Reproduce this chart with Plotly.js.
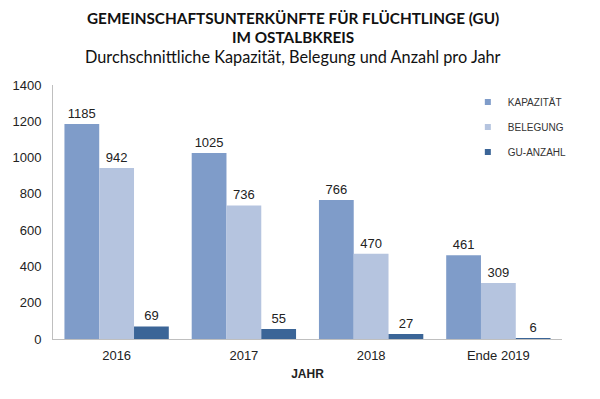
<!DOCTYPE html>
<html><head><meta charset="utf-8">
<script src="https://cdn.plot.ly/plotly-3.0.1.min.js"></script>
<style>body{margin:0}#c{width:600px;height:399px}</style>
</head><body><div id="c"></div>
<script>
const categories = ["2016", "2017", "2018", "Ende 2019"];
const kapazitaet = [1185, 1025, 766, 461];
const belegung = [942, 736, 470, 309];
const guAnzahl = [69, 55, 27, 6];
const seriesNames = ["KAPAZITÄT", "BELEGUNG", "GU-ANZAHL"];
const colors = ["#7f9cc9", "#b5c4df", "#3b6597"];
const yTicks = [0, 200, 400, 600, 800, 1000, 1200, 1400];

const vals = [kapazitaet, belegung, guAnzahl];
const traces = vals.map((v, i) => ({
  type: "bar", x: categories, y: v, name: seriesNames[i],
  marker: {color: colors[i]}, showlegend: false,
  text: v.map(String), textposition: "outside", cliponaxis: false,
  textfont: {family: "Liberation Sans, Arial", size: 13, color: "#222"}
}));
// legend entries with small square symbols
seriesNames.forEach((n, i) => traces.push({
  type: "scatter", mode: "markers", x: [null], y: [null], name: n,
  legendgroup: "g" + i,
  marker: {symbol: "square", size: 6, color: colors[i]}, showlegend: true
}));

const layout = {
  width: 600, height: 399,
  margin: {l: 53, r: 38, t: 85, b: 60},
  paper_bgcolor: "#fff", plot_bgcolor: "#fff",
  barmode: "group", bargap: 0.18, bargroupgap: 0,
  showlegend: true,
  legend: {x: 0.815, y: 0.99, xanchor: "left", yanchor: "top",
    font: {family: "Liberation Sans, Arial", size: 10, color: "#333"},
    traceorder: "grouped", itemwidth: 30, tracegroupgap: 6, bgcolor: "rgba(0,0,0,0)"},
  xaxis: {type: "category", showline: true, linecolor: "#bfbfbf", linewidth: 1,
    ticks: "outside", ticklen: 4, tickcolor: "rgba(0,0,0,0)",
    tickfont: {family: "Liberation Sans, Arial", size: 13, color: "#222"},
    title: {text: "<b>JAHR</b>", font: {family: "Liberation Sans, Arial", size: 12, color: "#222"}, standoff: 8}},
  yaxis: {range: [0, 1400], tickvals: yTicks, showgrid: false, zeroline: false,
    showline: true, linecolor: "#bfbfbf", linewidth: 1, ticks: "outside", ticklen: 8, tickcolor: "rgba(0,0,0,0)",
    tickfont: {family: "Liberation Sans, Arial", size: 13, color: "#222"}},
  annotations: [
    {text: "<b>GEMEINSCHAFTSUNTERKÜNFTE FÜR FLÜCHTLINGE (GU)</b>", size: 15.3, top: 18},
    {text: "<b>IM OSTALBKREIS</b>", size: 15.3, top: 37},
    {text: "Durchschnittliche Kapazität, Belegung und Anzahl pro Jahr", size: 16.3, top: 57}
  ]
};
const plotH = 399 - 85 - 60;
const py = p => (399 - 60 - p) / plotH;
layout.annotations = layout.annotations.map(a => ({
  text: a.text, xref: "paper", yref: "paper", showarrow: false,
  x: (293 - 53) / (600 - 53 - 38), y: py(a.top), yanchor: "middle",
  font: {family: "Lato, Noto Sans", size: a.size, color: "#111"}
}));

Plotly.newPlot("c", traces, layout, {staticPlot: true});
</script></body></html>
